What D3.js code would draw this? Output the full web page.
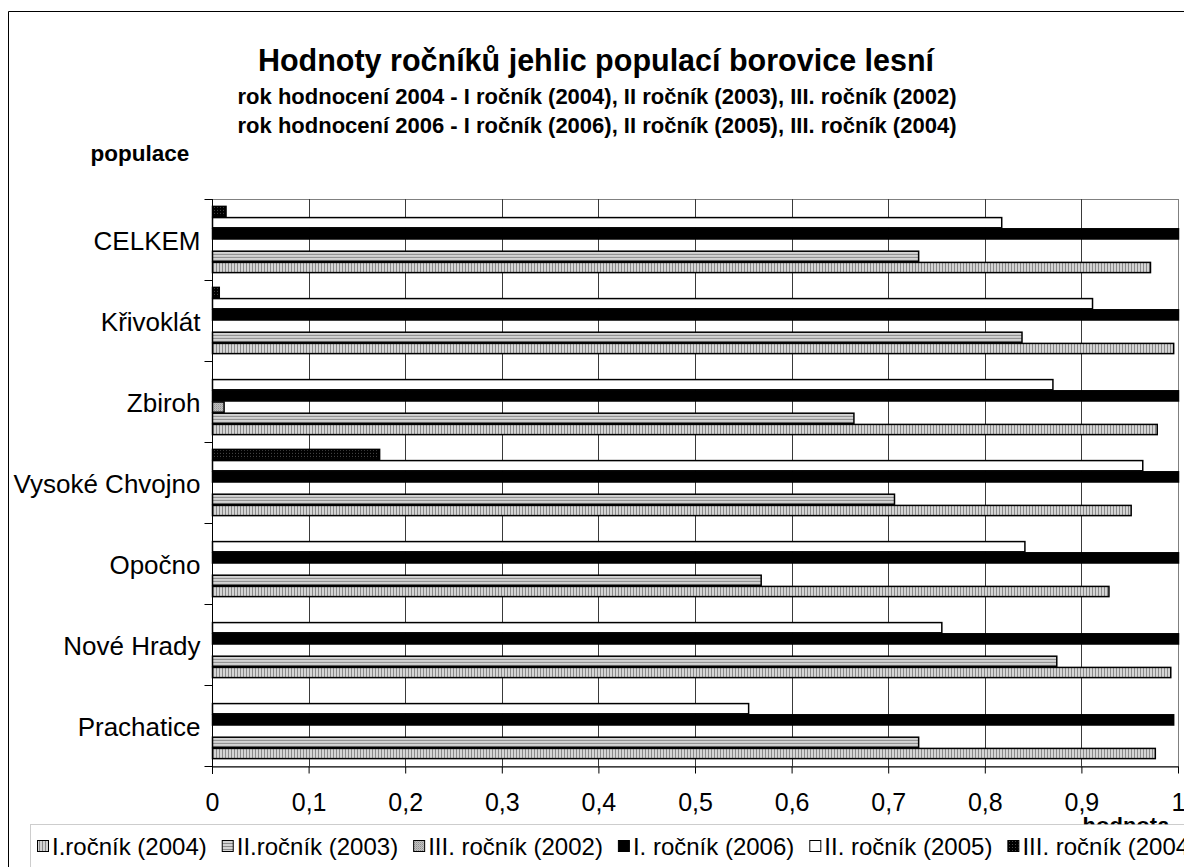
<!DOCTYPE html>
<html>
<head>
<meta charset="utf-8">
<script src="https://cdn.jsdelivr.net/npm/d3@7"></script>
<style>
  html, body { margin: 0; padding: 0; background: #fff; }
  svg { display: block; font-family: "Liberation Sans", Arial, sans-serif; }
</style>
</head>
<body>
<svg id="chart" width="1184" height="867"></svg>
<script>
// Populations (top to bottom)
const categories = ["CELKEM", "Křivoklát", "Zbiroh", "Vysoké Chvojno", "Opočno", "Nové Hrady", "Prachatice"];

// Needle-year values per population
const rocnikI2004   = [0.971, 0.995, 0.978, 0.951, 0.928, 0.992, 0.976];
const rocnikII2003  = [0.731, 0.838, 0.664, 0.706, 0.568, 0.874, 0.731];
const rocnikIII2002 = [0,     0,     0.012, 0,     0,     0,     0];
const rocnikI2006   = [1,     1,     1,     1,     1,     1,     0.995];
const rocnikII2005  = [0.817, 0.911, 0.870, 0.963, 0.841, 0.755, 0.555];
const rocnikIII2004 = [0.014, 0.007, 0,     0.173, 0,     0,     0];

const seriesNames = ["I.ročník (2004)", "II.ročník (2003)", "III. ročník (2002)",
                     "I. ročník (2006)", "II. ročník (2005)", "III. ročník (2004)"];
const xTicks = [0, 0.1, 0.2, 0.3, 0.4, 0.5, 0.6, 0.7, 0.8, 0.9, 1];

const series = [
  { name: seriesNames[0], values: rocnikI2004,   fill: "url(#pVert)" },
  { name: seriesNames[1], values: rocnikII2003,  fill: "url(#pHoriz)" },
  { name: seriesNames[2], values: rocnikIII2002, fill: "url(#pGrain)" },
  { name: seriesNames[3], values: rocnikI2006,   fill: "#000" },
  { name: seriesNames[4], values: rocnikII2005,  fill: "#fff" },
  { name: seriesNames[5], values: rocnikIII2004, fill: "url(#pDots)" }
];

const svg = d3.select("#chart");
const W = 1184, H = 867;
const plot = { left: 212, right: 1178, top: 199, bottom: 766 };

svg.append("rect").attr("width", W).attr("height", H).attr("fill", "#fff");

// Fill patterns
const defs = svg.append("defs");
function pattern(id, w, h, bg, draw) {
  const p = defs.append("pattern").attr("id", id).attr("patternUnits", "userSpaceOnUse")
    .attr("width", w).attr("height", h);
  p.append("rect").attr("width", w).attr("height", h).attr("fill", bg);
  draw(p);
}
pattern("pVert", 3, 3, "#d4d4d4", p => p.append("rect").attr("width", 1).attr("height", 3).attr("fill", "#8a8a8a"));
pattern("pHoriz", 3, 3, "#d4d4d4", p => p.append("rect").attr("width", 3).attr("height", 1).attr("fill", "#8a8a8a"));
pattern("pGrain", 2, 2, "#c4c4c4", p => {
  p.append("rect").attr("width", 1).attr("height", 1).attr("fill", "#909090");
  p.append("rect").attr("x", 1).attr("y", 1).attr("width", 1).attr("height", 1).attr("fill", "#a8a8a8");
});
pattern("pDots", 3, 3, "#000", p => p.append("rect").attr("x", 1).attr("y", 1).attr("width", 1).attr("height", 1).attr("fill", "#4a4a4a"));

// Outer chart frame (left and top edges visible)
svg.append("path").attr("d", `M8.5,${H + 5}V11.5H${W + 5}`)
  .attr("fill", "none").attr("stroke", "#000").attr("stroke-width", 1);

// Scales
const x = d3.scaleLinear().domain([0, 1]).range([plot.left, plot.right]);
const y = d3.scaleBand().domain(categories).range([plot.top, plot.bottom])
  .paddingInner(0.17).paddingOuter(0.085);
// Within a group the series stack bottom-up: first series at the bottom
const yInner = d3.scaleBand().domain(d3.range(series.length).reverse())
  .range([0, y.bandwidth()]);

// Plot area border (grey)
svg.append("rect")
  .attr("x", plot.left + 0.5).attr("y", plot.top + 0.5)
  .attr("width", plot.right - plot.left).attr("height", plot.bottom - plot.top)
  .attr("fill", "none").attr("stroke", "#808080").attr("stroke-width", 1);

// Vertical gridlines
svg.append("g").selectAll("line")
  .data(xTicks.filter(t => t > 0 && t < 1))
  .join("line")
  .attr("x1", d => Math.round(x(d)) + 0.5).attr("x2", d => Math.round(x(d)) + 0.5)
  .attr("y1", plot.top).attr("y2", plot.bottom)
  .attr("stroke", "#3a3a3a").attr("stroke-width", 1);

// Bars
const groups = svg.append("g").selectAll("g")
  .data(categories)
  .join("g")
  .attr("transform", d => `translate(0,${y(d)})`);

groups.selectAll("rect")
  .data((c, ci) => series.map((s, si) => ({ si, v: s.values[ci], fill: s.fill })).filter(d => d.v > 0))
  .join("rect")
  .attr("x", x(0) + 0.5)
  .attr("y", d => yInner(d.si) + 0.5)
  .attr("width", d => x(d.v) - x(0))
  .attr("height", yInner.bandwidth() - 1)
  .attr("fill", d => d.fill)
  .attr("stroke", "#000")
  .attr("stroke-width", 1.5);

// Left (category) axis
const yAxis = svg.append("g").attr("transform", `translate(${plot.left + 0.5},0)`);
yAxis.append("line").attr("y1", plot.top).attr("y2", plot.bottom + 8).attr("stroke", "#000");
const bounds = categories.map(c => y(c) - y.step() * y.paddingInner() / 2);
bounds[0] = plot.top;
bounds.push(plot.bottom);
yAxis.selectAll("line.tick").data(bounds).join("line").attr("class", "tick")
  .attr("x1", -8).attr("x2", 0)
  .attr("y1", d => Math.round(d) + 0.5).attr("y2", d => Math.round(d) + 0.5)
  .attr("stroke", "#000");
yAxis.selectAll("text").data(categories).join("text")
  .attr("x", -12)
  .attr("y", d => y(d) - y.step() * y.paddingInner() / 2 + y.step() / 2 + 10)
  .attr("text-anchor", "end")
  .attr("font-size", 26)
  .text(d => d);

// Bottom (value) axis
const xAxis = svg.append("g").attr("transform", `translate(0,${plot.bottom + 0.5})`)
  .call(d3.axisBottom(x).tickValues(xTicks).tickSize(7).tickSizeOuter(0)
    .tickFormat(d => d3.format("~g")(d).replace(".", ",")));
xAxis.select(".domain").attr("stroke", "#000");
xAxis.selectAll(".tick line").attr("stroke", "#000");
xAxis.selectAll(".tick text")
  .attr("font-family", "Liberation Sans, Arial, sans-serif")
  .attr("font-size", 25).attr("fill", "#000").attr("dy", 0).attr("y", 44);

// Axis titles (the value-axis title sits partly under the legend)
svg.append("text").attr("x", 1126).attr("y", 833).attr("text-anchor", "middle")
  .attr("font-size", 22).attr("font-weight", "bold").text("hodnota");
svg.append("text").attr("x", 140).attr("y", 161).attr("text-anchor", "middle")
  .attr("font-size", 22.5).attr("font-weight", "bold").text("populace");

// Titles
svg.append("text").attr("x", 596).attr("y", 71).attr("text-anchor", "middle")
  .attr("font-size", 30.5).attr("font-weight", "bold")
  .text("Hodnoty ročníků jehlic populací borovice lesní");
svg.append("text").attr("x", 597).attr("y", 104).attr("text-anchor", "middle")
  .attr("font-size", 22).attr("font-weight", "bold")
  .text("rok hodnocení 2004 - I ročník (2004), II ročník (2003), III. ročník (2002)");
svg.append("text").attr("x", 597).attr("y", 133).attr("text-anchor", "middle")
  .attr("font-size", 22).attr("font-weight", "bold")
  .text("rok hodnocení 2006 - I ročník (2006), II ročník (2005), III. ročník (2004)");

// Legend
const legend = svg.append("g");
legend.append("rect").attr("x", 30.5).attr("y", 824.5).attr("width", 1170).attr("height", 60)
  .attr("fill", "#fff").attr("stroke", "#9a9a9a").attr("stroke-dasharray", "1,1");
let lx = 37;
series.forEach(s => {
  legend.append("rect").attr("x", lx + 0.5).attr("y", 840.5).attr("width", 11).attr("height", 11)
    .attr("fill", s.fill).attr("stroke", "#000");
  const t = legend.append("text").attr("x", lx + 15).attr("y", 855)
    .attr("font-size", 24).text(s.name);
  lx += 15 + t.node().getComputedTextLength() + 15;
});
</script>
</body>
</html>
